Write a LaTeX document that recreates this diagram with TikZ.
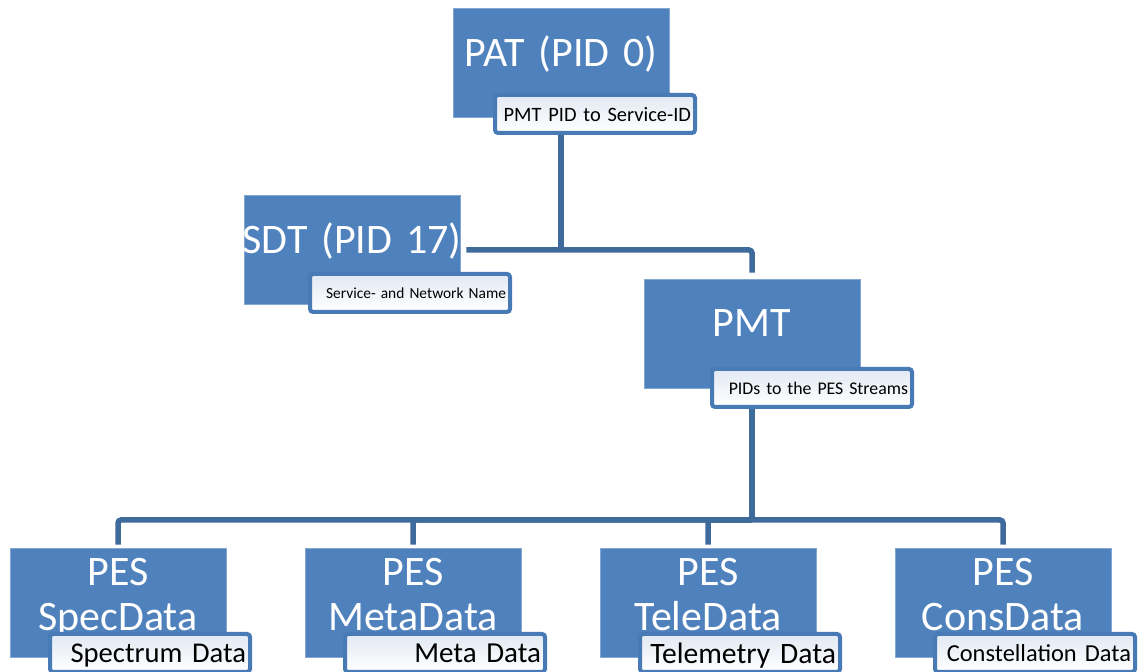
\documentclass[tikz,border=0pt]{standalone}
\usepackage{fontspec}
\setmainfont{Carlito}
\usetikzlibrary{positioning}
\definecolor{boxblue}{RGB}{79,129,189}
\definecolor{edgeblue}{RGB}{62,106,156}
\definecolor{tagblue}{RGB}{72,122,182}
\definecolor{tagshade}{RGB}{226,233,243}

\begin{document}
\begin{tikzpicture}[x=0.5pt,y=-0.5pt,node distance=147.5pt,
  box/.style={rectangle, fill=boxblue, draw=boxblue!70!white, line width=0.4pt,
    text=white, inner xsep=-6pt, inner ysep=0pt, text width=120pt, minimum height=54.5pt,
    align=center, text height=29pt, text depth=25.5pt, font=\fontsize{21}{22.5}\selectfont},
  pes/.style={box, text height=19pt, text depth=35.5pt},
  tag/.style={rectangle, draw=tagblue, line width=2pt, rounded corners=1.5pt,
    top color=tagshade, middle color=white, bottom color=white,
    minimum width=100pt, minimum height=19pt, inner xsep=2pt, inner ysep=0pt,
    text width=96pt, align=right, text depth=0pt},
  conn/.style={draw=edgeblue, line width=2.75pt, rounded corners=1.5pt}]

  \useasboundingbox (0,0) rectangle (1147,672);

  % tables
  \node[box] (pat) at (561,63) {PAT (PID 0)};
  \node[box] (sdt) at (352,250) {SDT (PID 17)};
  \node[box] (pmt) at (752,333.5) {PMT};

  % streams
  \node[pes] (pes1) at (118,602.5) {PES\\SpecData};
  \node[pes] (pes2) [right of=pes1] {PES\\MetaData};
  \node[pes] (pes3) [right of=pes2] {PES\\TeleData};
  \node[pes] (pes4) [right of=pes3] {PES\\ConsData};

  \coordinate (j1) at (pat |- sdt);
  \coordinate (j2) at (pmt |- 0,520);

  \draw[conn] (pat.south) -- (j1);
  \draw[conn, shorten <=3pt, shorten >=3pt] (sdt.east) -- (j1) -| (pmt.north);
  \draw[conn] (pmt.south) -- (j2);
  \foreach \n in {pes1,pes2,pes3,pes4}
    \draw[conn, shorten >=1.5pt] (j2) -| (\n.north);

  % captions
  \node[tag, font=\fontsize{10.2}{12}\selectfont] (pat-tag) at (595,114) {PMT PID to Service-ID};
  \node[tag, font=\fontsize{7.7}{9}\selectfont] (sdt-tag) at (410,293) {Service- and Network Name};
  \node[tag, font=\fontsize{8.9}{11}\selectfont] (pmt-tag) at (812,388) {PIDs to the PES Streams};
  \foreach \n/\t/\s in {pes1/Spectrum Data/14.3, pes2/Meta Data/14.5,
      pes3/Telemetry Data/14.8, pes4/Constellation Data/12.2}
    \node[tag, font=\fontsize{\s}{\s}\selectfont] (\n-tag)
      at ([xshift=16pt,yshift=-25.25pt]\n.center) {\t};

\end{tikzpicture}
\end{document}
